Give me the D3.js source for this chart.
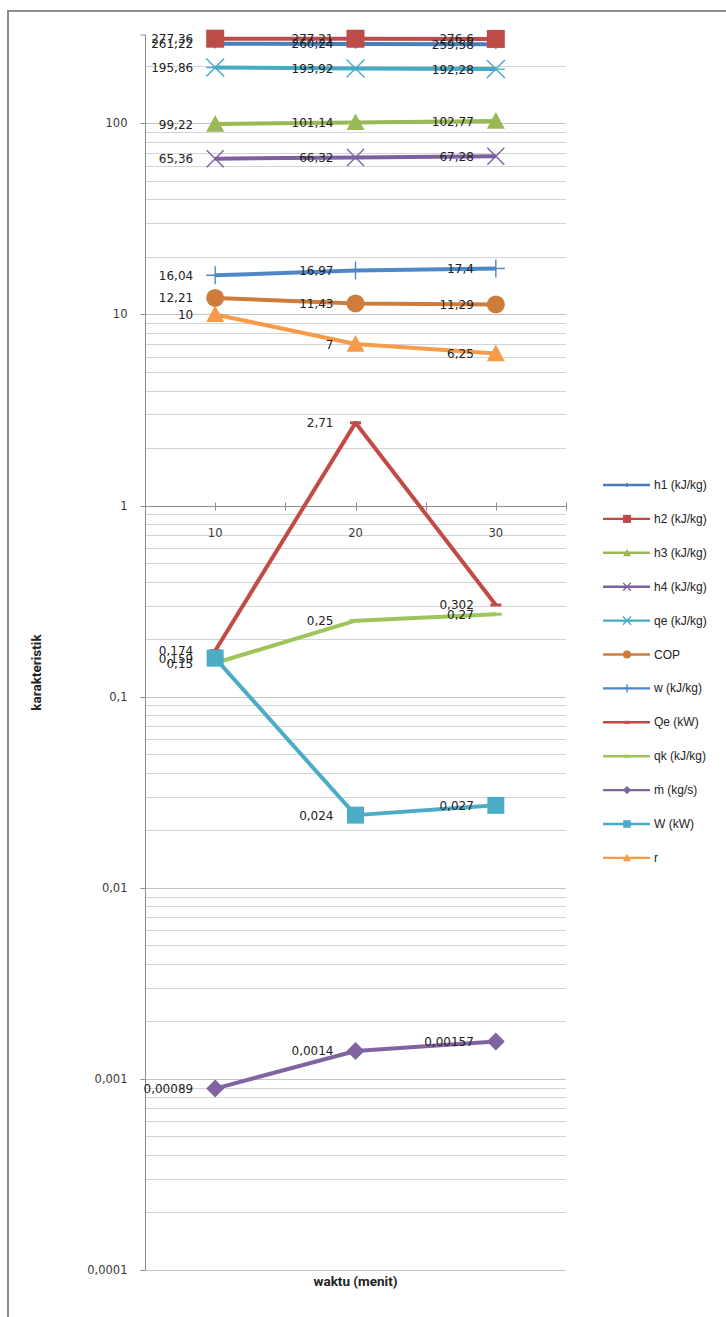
<!DOCTYPE html>
<html>
<head>
<meta charset="utf-8">
<script src="https://cdn.jsdelivr.net/npm/d3@7"></script>
<style>
  html, body { margin: 0; padding: 0; background: #fff; }
  svg { display: block; }
</style>
</head>
<body>
<script>
// Characteristics of the refrigeration cycle over time (log scale)
const categories = ["10", "20", "30"];
const seriesNames = ["h1 (kJ/kg)", "h2 (kJ/kg)", "h3 (kJ/kg)", "h4 (kJ/kg)", "qe (kJ/kg)", "COP",
                     "w (kJ/kg)", "Qe (kW)", "qk (kJ/kg)", "ṁ (kg/s)", "W (kW)", "r"];
const h1  = [261.22, 260.24, 259.58];
const h2  = [277.36, 277.21, 276.6];
const h3  = [99.22, 101.14, 102.77];
const h4  = [65.36, 66.32, 67.28];
const qe  = [195.86, 193.92, 192.28];
const cop = [12.21, 11.43, 11.29];
const w   = [16.04, 16.97, 17.4];
const Qe  = [0.174, 2.71, 0.302];
const qk  = [0.15, 0.25, 0.27];
const mdot = [0.00089, 0.0014, 0.00157];
const W   = [0.159, 0.024, 0.027];
const r   = [10, 7, 6.25];
const yTickValues = [0.0001, 0.001, 0.01, 0.1, 1, 10, 100];
const yTickLabels = ["0,0001", "0,001", "0,01", "0,1", "1", "10", "100"];
const yAxisTitle = "karakteristik";
const xAxisTitle = "waktu (menit)";

const seriesValues = [h1, h2, h3, h4, qe, cop, w, Qe, qk, mdot, W, r];

// line colour, marker shape and marker size for each series
const styles = [
  { color: "#4a7ebb", marker: "diamond",  size: 10 },
  { color: "#be4b48", marker: "square",   size: 18 },
  { color: "#98b954", marker: "triangle", size: 18 },
  { color: "#7d60a0", marker: "x",        size: 17 },
  { color: "#46aac5", marker: "asterisk", size: 18 },
  { color: "#cd7d39", marker: "circle",   size: 18 },
  { color: "#4f86c6", marker: "plus",     size: 18 },
  { color: "#c24b47", marker: "dash",     size: 11 },
  { color: "#9dc55a", marker: "dash",     size: 12 },
  { color: "#8064a2", marker: "diamond",  size: 18 },
  { color: "#4bacc6", marker: "square",   size: 17 },
  { color: "#f79b4a", marker: "triangle", size: 18 }
];
const legendMarkerScale = 0.45;

const width = 726, height = 1317;
const plot = { left: 145, right: 566, top: 35, bottom: 1270 };
const yMax = 290;

const svg = d3.select("body").append("svg")
  .attr("width", width).attr("height", height);

// chart frame
svg.append("rect").attr("x", 8).attr("y", 11)
  .attr("width", width + 20).attr("height", height + 20)
  .attr("fill", "#fff").attr("stroke", "#8c8c8c").attr("stroke-width", 2);

const x = d3.scalePoint().domain(categories).range([plot.left, plot.right]).padding(0.5);
const y = d3.scaleLog().domain([yTickValues[0], yMax]).range([plot.bottom, plot.top]);

// horizontal gridlines at every 1..9 × 10^k
const gridValues = [];
yTickValues.forEach(d => {
  for (let m = 1; m <= 9; m++) {
    const v = d * m;
    if (v <= yMax * 1.0001) gridValues.push(v);
  }
});
svg.append("g").selectAll("line").data(gridValues).join("line")
  .attr("x1", plot.left).attr("x2", plot.right)
  .attr("y1", d => Math.round(y(d)) + 0.5).attr("y2", d => Math.round(y(d)) + 0.5)
  .attr("stroke", d => yTickValues.includes(d) ? "#c4c4c4" : "#d4d4d4")
  .attr("stroke-width", 1);

// vertical axis
const yAxis = d3.axisLeft(y)
  .tickValues(yTickValues)
  .tickFormat((d, i) => yTickLabels[i])
  .tickSize(5).tickPadding(13);
const gy = svg.append("g").attr("transform", `translate(${plot.left + 0.5},0)`).call(yAxis);
gy.select(".domain").attr("stroke", "#8c8c8c").attr("d", `M-5,${plot.top}H0V${plot.bottom}`);
gy.selectAll(".tick line").attr("stroke", "#8c8c8c");
gy.selectAll(".tick text")
  .attr("font-family", "DejaVu Sans, sans-serif").attr("font-size", 11.5).attr("fill", "#3a3a3a");
gy.selectAll(".tick").attr("transform", d => `translate(0,${Math.round(y(d)) + 0.5})`);

// horizontal category axis crossing at 1
const axisY = Math.round(y(1)) + 0.5;
const step = x.step();
const xTickPos = d3.range(0, categories.length * 2 + 1).map(i => plot.left + i * step / 2);
const gx = svg.append("g");
gx.append("line").attr("x1", plot.left).attr("x2", plot.right)
  .attr("y1", axisY).attr("y2", axisY).attr("stroke", "#8c8c8c");
gx.selectAll("line.t").data(xTickPos.slice(1)).join("line").attr("class", "t")
  .attr("x1", d => Math.round(d) + 0.5).attr("x2", d => Math.round(d) + 0.5)
  .attr("y1", axisY - 4).attr("y2", axisY + 4).attr("stroke", "#8c8c8c");
gx.selectAll("text").data(categories).join("text")
  .attr("x", d => x(d)).attr("y", axisY + 30)
  .attr("text-anchor", "middle")
  .attr("font-family", "DejaVu Sans, sans-serif").attr("font-size", 11.5).attr("fill", "#3a3a3a")
  .text(d => d);

// axis titles
svg.append("text")
  .attr("transform", `translate(41,${(plot.top + plot.bottom) / 2 + 20}) rotate(-90)`)
  .attr("text-anchor", "middle")
  .attr("font-family", "Liberation Sans Narrow, Roboto, sans-serif")
  .attr("font-weight", "bold").attr("font-size", 13.5).attr("fill", "#222")
  .text(yAxisTitle);
svg.append("text")
  .attr("x", (plot.left + plot.right) / 2).attr("y", 1286)
  .attr("text-anchor", "middle")
  .attr("font-family", "Liberation Sans Narrow, Roboto, sans-serif")
  .attr("font-weight", "bold").attr("font-size", 13.5).attr("fill", "#222")
  .text(xAxisTitle);

// marker shapes
function markerPath(shape, s) {
  const h = s / 2;
  switch (shape) {
    case "diamond":  return `M0,${-h}L${h},0L0,${h}L${-h},0Z`;
    case "square":   return `M${-h},${-h}H${h}V${h}H${-h}Z`;
    case "triangle": return `M0,${-h}L${h},${h * 0.85}L${-h},${h * 0.85}Z`;
    case "circle":   return `M${h},0A${h},${h} 0 1,1 ${-h},0A${h},${h} 0 1,1 ${h},0Z`;
    case "x":        return `M${-h},${-h}L${h},${h}M${h},${-h}L${-h},${h}`;
    case "plus":     return `M${-h},0H${h}M0,${-h}V${h}`;
    case "asterisk": return `M${-h},${-h}L${h},${h}M${h},${-h}L${-h},${h}M${-h},0H${h}`;
    case "dash":     return `M${-h},-1.5H${h}V1.5H${-h}Z`;
  }
}
const strokeMarkers = new Set(["x", "plus", "asterisk"]);
function drawMarker(g, shape, s, color) {
  const p = g.append("path").attr("d", markerPath(shape, s));
  if (strokeMarkers.has(shape)) {
    p.attr("fill", "none").attr("stroke", color).attr("stroke-width", 1.4);
  } else {
    p.attr("fill", color);
  }
}

// series lines and markers
const line = d3.line().x((d, i) => x(categories[i])).y(d => y(d));
const seriesG = svg.append("g");
seriesValues.forEach((vals, si) => {
  const st = styles[si];
  const g = seriesG.append("g");
  g.append("path").datum(vals).attr("d", line)
    .attr("fill", "none").attr("stroke", st.color).attr("stroke-width", 4)
    .attr("stroke-linejoin", "round");
  vals.forEach((v, i) => {
    const mg = g.append("g").attr("transform", `translate(${x(categories[i])},${y(v)})`);
    drawMarker(mg, st.marker, st.size, st.color);
  });
});

// data labels, placed to the left of each point
const fmt = v => String(v).replace(".", ",");
const labelG = svg.append("g");
seriesValues.forEach(vals => {
  vals.forEach((v, i) => {
    labelG.append("text")
      .attr("x", x(categories[i]) - 22).attr("y", y(v) + 4.5)
      .attr("text-anchor", "end")
      .attr("font-family", "DejaVu Sans, sans-serif").attr("font-size", 12).attr("fill", "#222")
      .text(fmt(v));
  });
});

// legend
const legend = svg.append("g");
seriesNames.forEach((name, i) => {
  const st = styles[i];
  const ly = 485 + i * 33.9;
  const g = legend.append("g").attr("transform", `translate(0,${ly})`);
  g.append("line").attr("x1", 603).attr("x2", 650).attr("y1", 0).attr("y2", 0)
    .attr("stroke", st.color).attr("stroke-width", 2.4);
  const mg = g.append("g").attr("transform", "translate(627,0)");
  const ls = st.marker === "dash" ? st.size * 0.5 : st.size * legendMarkerScale;
  drawMarker(mg, st.marker, ls, st.color);
  g.append("text").attr("x", 654).attr("y", 4)
    .attr("font-family", "Liberation Sans, sans-serif").attr("font-size", 12).attr("fill", "#222")
    .text(name);
});
</script>
</body>
</html>
